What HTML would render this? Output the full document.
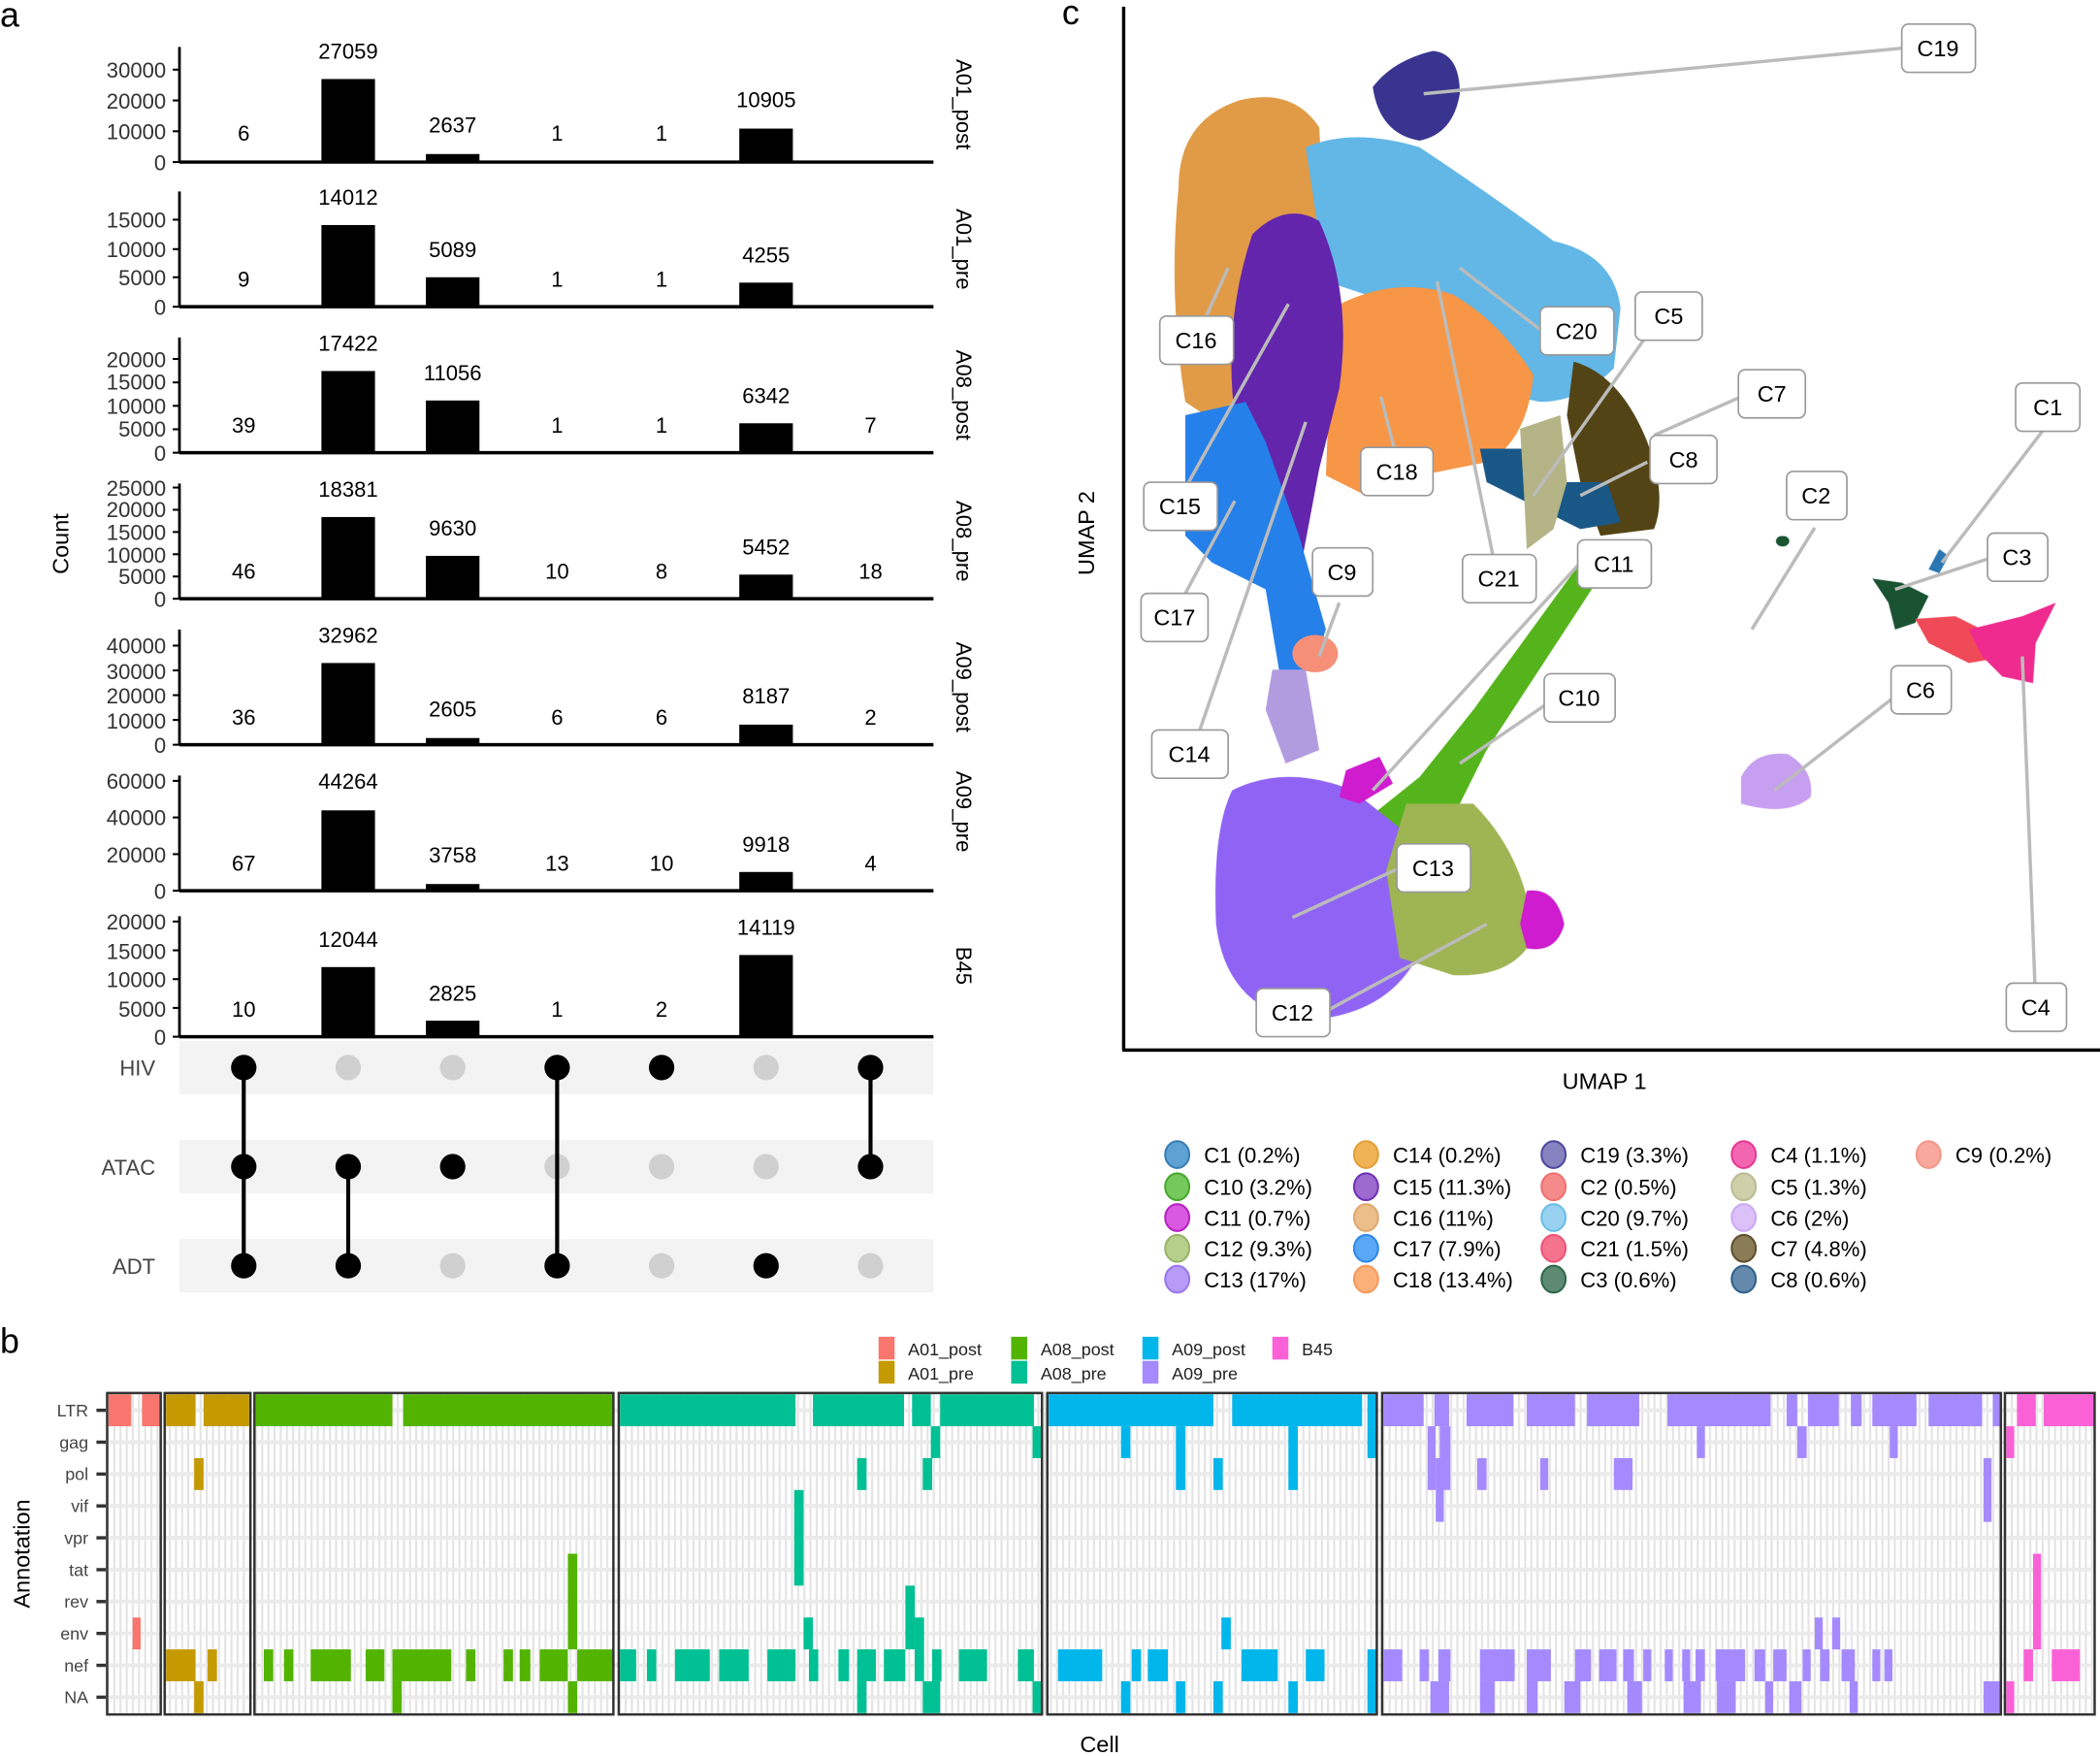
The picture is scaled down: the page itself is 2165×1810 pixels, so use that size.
<!DOCTYPE html>
<html><head><meta charset="utf-8"><style>
html,body{margin:0;padding:0;background:#fff}
svg{display:block}
text{font-family:"Liberation Sans",sans-serif}
</style></head><body>
<svg width="2165" height="1810" viewBox="0 0 1568 1311" preserveAspectRatio="none" xmlns="http://www.w3.org/2000/svg">
<defs>
<pattern id="vg" x="80" y="0" width="4.6" height="1311" patternUnits="userSpaceOnUse">
<rect x="0" y="0" width="1.6" height="1311" fill="#e4e4e4"/>
</pattern>
</defs>

<!-- ================= PANEL A ================= -->
<text x="0" y="20" font-size="26" fill="#000">a</text>
<g font-size="16" fill="#333">
<!-- P1 -->
<g>
<line x1="134" y1="35" x2="134" y2="121" stroke="#000" stroke-width="2"/>
<line x1="134" y1="121" x2="697" y2="121" stroke="#000" stroke-width="2.5"/>
<g stroke="#000" stroke-width="1.5"><line x1="129" y1="121" x2="134" y2="121"/><line x1="129" y1="98" x2="134" y2="98"/><line x1="129" y1="75" x2="134" y2="75"/><line x1="129" y1="52" x2="134" y2="52"/></g>
<g text-anchor="end"><text x="124" y="127">0</text><text x="124" y="104">10000</text><text x="124" y="81">20000</text><text x="124" y="58">30000</text></g>
<rect x="240" y="59" width="40" height="62" fill="#000"/><rect x="318" y="115" width="40" height="6" fill="#000"/><rect x="552" y="96" width="40" height="25" fill="#000"/>
<g text-anchor="middle" fill="#000"><text x="182" y="105">6</text><text x="260" y="44">27059</text><text x="338" y="99">2637</text><text x="416" y="105">1</text><text x="494" y="105">1</text><text x="572" y="80">10905</text></g>
<text transform="translate(714,78) rotate(90)" text-anchor="middle" fill="#000">A01_post</text>
</g>
<!-- P2 -->
<g>
<line x1="134" y1="143" x2="134" y2="229" stroke="#000" stroke-width="2"/>
<line x1="134" y1="229" x2="697" y2="229" stroke="#000" stroke-width="2.5"/>
<g stroke="#000" stroke-width="1.5"><line x1="129" y1="229" x2="134" y2="229"/><line x1="129" y1="207" x2="134" y2="207"/><line x1="129" y1="186" x2="134" y2="186"/><line x1="129" y1="164" x2="134" y2="164"/></g>
<g text-anchor="end"><text x="124" y="235">0</text><text x="124" y="213">5000</text><text x="124" y="192">10000</text><text x="124" y="170">15000</text></g>
<rect x="240" y="168" width="40" height="61" fill="#000"/><rect x="318" y="207" width="40" height="22" fill="#000"/><rect x="552" y="211" width="40" height="18" fill="#000"/>
<g text-anchor="middle" fill="#000"><text x="182" y="214">9</text><text x="260" y="153">14012</text><text x="338" y="192">5089</text><text x="416" y="214">1</text><text x="494" y="214">1</text><text x="572" y="196">4255</text></g>
<text transform="translate(714,186) rotate(90)" text-anchor="middle" fill="#000">A01_pre</text>
</g>
<!-- P3 -->
<g>
<line x1="134" y1="252" x2="134" y2="338" stroke="#000" stroke-width="2"/>
<line x1="134" y1="338" x2="697" y2="338" stroke="#000" stroke-width="2.5"/>
<g stroke="#000" stroke-width="1.5"><line x1="129" y1="338" x2="134" y2="338"/><line x1="129" y1="320.5" x2="134" y2="320.5"/><line x1="129" y1="303" x2="134" y2="303"/><line x1="129" y1="285.5" x2="134" y2="285.5"/><line x1="129" y1="268" x2="134" y2="268"/></g>
<g text-anchor="end"><text x="124" y="344">0</text><text x="124" y="326">5000</text><text x="124" y="309">10000</text><text x="124" y="291">15000</text><text x="124" y="274">20000</text></g>
<rect x="240" y="277" width="40" height="61" fill="#000"/><rect x="318" y="299" width="40" height="39" fill="#000"/><rect x="552" y="316" width="40" height="22" fill="#000"/>
<g text-anchor="middle" fill="#000"><text x="182" y="323">39</text><text x="260" y="262">17422</text><text x="338" y="284">11056</text><text x="416" y="323">1</text><text x="494" y="323">1</text><text x="572" y="301">6342</text><text x="650" y="323">7</text></g>
<text transform="translate(714,295) rotate(90)" text-anchor="middle" fill="#000">A08_post</text>
</g>
<!-- P4 -->
<g>
<line x1="134" y1="361" x2="134" y2="447" stroke="#000" stroke-width="2"/>
<line x1="134" y1="447" x2="697" y2="447" stroke="#000" stroke-width="2.5"/>
<g stroke="#000" stroke-width="1.5"><line x1="129" y1="447" x2="134" y2="447"/><line x1="129" y1="430.4" x2="134" y2="430.4"/><line x1="129" y1="413.8" x2="134" y2="413.8"/><line x1="129" y1="397.2" x2="134" y2="397.2"/><line x1="129" y1="380.6" x2="134" y2="380.6"/><line x1="129" y1="364" x2="134" y2="364"/></g>
<g text-anchor="end"><text x="124" y="453">0</text><text x="124" y="436">5000</text><text x="124" y="420">10000</text><text x="124" y="403">15000</text><text x="124" y="386">20000</text><text x="124" y="370">25000</text></g>
<rect x="240" y="386" width="40" height="61" fill="#000"/><rect x="318" y="415" width="40" height="32" fill="#000"/><rect x="552" y="429" width="40" height="18" fill="#000"/>
<g text-anchor="middle" fill="#000"><text x="182" y="432">46</text><text x="260" y="371">18381</text><text x="338" y="400">9630</text><text x="416" y="432">10</text><text x="494" y="432">8</text><text x="572" y="414">5452</text><text x="650" y="432">18</text></g>
<text transform="translate(714,404) rotate(90)" text-anchor="middle" fill="#000">A08_pre</text>
<text transform="translate(51,406) rotate(-90)" text-anchor="middle" fill="#000" font-size="17">Count</text>
</g>
<!-- P5 -->
<g>
<line x1="134" y1="470" x2="134" y2="556" stroke="#000" stroke-width="2"/>
<line x1="134" y1="556" x2="697" y2="556" stroke="#000" stroke-width="2.5"/>
<g stroke="#000" stroke-width="1.5"><line x1="129" y1="556" x2="134" y2="556"/><line x1="129" y1="537.5" x2="134" y2="537.5"/><line x1="129" y1="519" x2="134" y2="519"/><line x1="129" y1="500.5" x2="134" y2="500.5"/><line x1="129" y1="482" x2="134" y2="482"/></g>
<g text-anchor="end"><text x="124" y="562">0</text><text x="124" y="544">10000</text><text x="124" y="525">20000</text><text x="124" y="507">30000</text><text x="124" y="488">40000</text></g>
<rect x="240" y="495" width="40" height="61" fill="#000"/><rect x="318" y="551" width="40" height="5" fill="#000"/><rect x="552" y="541" width="40" height="15" fill="#000"/>
<g text-anchor="middle" fill="#000"><text x="182" y="541">36</text><text x="260" y="480">32962</text><text x="338" y="535">2605</text><text x="416" y="541">6</text><text x="494" y="541">6</text><text x="572" y="525">8187</text><text x="650" y="541">2</text></g>
<text transform="translate(714,513) rotate(90)" text-anchor="middle" fill="#000">A09_post</text>
</g>
<!-- P6 -->
<g>
<line x1="134" y1="579" x2="134" y2="665" stroke="#000" stroke-width="2"/>
<line x1="134" y1="665" x2="697" y2="665" stroke="#000" stroke-width="2.5"/>
<g stroke="#000" stroke-width="1.5"><line x1="129" y1="665" x2="134" y2="665"/><line x1="129" y1="637.7" x2="134" y2="637.7"/><line x1="129" y1="610.3" x2="134" y2="610.3"/><line x1="129" y1="583" x2="134" y2="583"/></g>
<g text-anchor="end"><text x="124" y="671">0</text><text x="124" y="644">20000</text><text x="124" y="616">40000</text><text x="124" y="589">60000</text></g>
<rect x="240" y="605" width="40" height="60" fill="#000"/><rect x="318" y="660" width="40" height="5" fill="#000"/><rect x="552" y="651" width="40" height="14" fill="#000"/>
<g text-anchor="middle" fill="#000"><text x="182" y="650">67</text><text x="260" y="589">44264</text><text x="338" y="644">3758</text><text x="416" y="650">13</text><text x="494" y="650">10</text><text x="572" y="636">9918</text><text x="650" y="650">4</text></g>
<text transform="translate(714,606) rotate(90)" text-anchor="middle" fill="#000">A09_pre</text>
</g>
<!-- P7 -->
<g>
<line x1="134" y1="684" x2="134" y2="774" stroke="#000" stroke-width="2"/>
<line x1="134" y1="774" x2="697" y2="774" stroke="#000" stroke-width="2.5"/>
<g stroke="#000" stroke-width="1.5"><line x1="129" y1="774" x2="134" y2="774"/><line x1="129" y1="752.5" x2="134" y2="752.5"/><line x1="129" y1="731" x2="134" y2="731"/><line x1="129" y1="709.5" x2="134" y2="709.5"/><line x1="129" y1="688" x2="134" y2="688"/></g>
<g text-anchor="end"><text x="124" y="780">0</text><text x="124" y="759">5000</text><text x="124" y="737">10000</text><text x="124" y="716">15000</text><text x="124" y="694">20000</text></g>
<rect x="240" y="722" width="40" height="52" fill="#000"/><rect x="318" y="762" width="40" height="12" fill="#000"/><rect x="552" y="713" width="40" height="61" fill="#000"/>
<g text-anchor="middle" fill="#000"><text x="182" y="759">10</text><text x="260" y="707">12044</text><text x="338" y="747">2825</text><text x="416" y="759">1</text><text x="494" y="759">2</text><text x="572" y="698">14119</text></g>
<text transform="translate(714,721) rotate(90)" text-anchor="middle" fill="#000">B45</text>
</g>
</g>

<!-- matrix -->
<rect x="134" y="777" width="563" height="40" fill="#f3f3f3"/>
<rect x="134" y="851" width="563" height="40" fill="#f3f3f3"/>
<rect x="134" y="925" width="563" height="40" fill="#f3f3f3"/>
<g font-size="16" fill="#444" text-anchor="end"><text x="116" y="803">HIV</text><text x="116" y="877">ATAC</text><text x="116" y="951">ADT</text></g>
<g fill="#d0d0d0">
<circle cx="260" cy="797" r="9.5"/><circle cx="338" cy="797" r="9.5"/><circle cx="572" cy="797" r="9.5"/>
<circle cx="416" cy="871" r="9.5"/><circle cx="494" cy="871" r="9.5"/><circle cx="572" cy="871" r="9.5"/>
<circle cx="338" cy="945" r="9.5"/><circle cx="494" cy="945" r="9.5"/><circle cx="650" cy="945" r="9.5"/>
</g>
<g stroke="#000" stroke-width="3"><line x1="182" y1="797" x2="182" y2="945"/><line x1="260" y1="871" x2="260" y2="945"/><line x1="416" y1="797" x2="416" y2="945"/><line x1="650" y1="797" x2="650" y2="871"/></g>
<g fill="#000">
<circle cx="182" cy="797" r="9.5"/><circle cx="416" cy="797" r="9.5"/><circle cx="494" cy="797" r="9.5"/><circle cx="650" cy="797" r="9.5"/>
<circle cx="182" cy="871" r="9.5"/><circle cx="260" cy="871" r="9.5"/><circle cx="338" cy="871" r="9.5"/><circle cx="650" cy="871" r="9.5"/>
<circle cx="182" cy="945" r="9.5"/><circle cx="260" cy="945" r="9.5"/><circle cx="416" cy="945" r="9.5"/><circle cx="572" cy="945" r="9.5"/>
</g>

<!-- ================= PANEL C ================= -->
<text x="793" y="18" font-size="26" fill="#000">c</text>
<g opacity="0.95">
<!-- C16 -->
<path d="M880,140 Q880,90 925,75 Q965,65 985,95 L990,180 L975,300 L930,330 L885,300 Q872,220 880,140Z" fill="#e0963e"/>
<!-- C20 -->
<path d="M975,110 Q1010,95 1060,110 Q1120,150 1160,180 Q1205,190 1210,230 L1205,275 Q1180,300 1150,300 L1100,290 L1050,230 L990,210Z" fill="#5ab4e5"/>
<!-- C19 -->
<path d="M1025,65 Q1040,45 1070,38 Q1090,40 1090,70 Q1085,100 1060,105 Q1030,100 1025,65Z" fill="#2e2a8a"/>
<!-- C18 -->
<path d="M995,230 Q1040,205 1085,220 Q1120,240 1145,280 Q1140,330 1110,345 L1060,355 L1020,370 L990,355 Z" fill="#f7913d"/>
<!-- C15 -->
<path d="M935,175 Q960,150 985,165 Q1010,220 1000,290 L985,350 L970,430 L945,420 L925,330 Q910,250 935,175Z" fill="#5b1aa8"/>
<!-- C17 -->
<path d="M885,310 L930,300 L945,330 L970,400 L990,470 L980,500 L955,500 L945,440 L905,420 L885,400 Z" fill="#1a7ae8"/>
<!-- C7 -->
<path d="M1175,270 Q1210,280 1230,330 Q1245,370 1235,395 L1195,400 L1180,360 L1170,310 Z" fill="#4a3a0a"/>
<!-- C8 -->
<path d="M1105,335 L1140,335 L1160,360 L1200,360 L1210,390 L1180,395 L1150,380 L1110,360Z" fill="#0d4f80"/>
<!-- C5 -->
<path d="M1135,320 L1165,310 L1170,360 L1160,395 L1140,410 L1138,370Z" fill="#b0b080"/>
<!-- C9 -->
<ellipse cx="982" cy="488" rx="17" ry="14" fill="#f58a70"/>
<!-- scattered trail -->
<path d="M950,500 L975,500 L985,560 L960,570 L945,530Z" fill="#8a6ad0" opacity="0.7"/>
<!-- C10 -->
<path d="M1180,420 L1195,430 L1110,560 L1090,600 L1060,640 L1020,650 L1010,620 L1060,580 L1100,530Z" fill="#4caf10"/>
<!-- C12 -->
<path d="M920,590 Q960,570 1010,590 L1060,630 L1055,720 Q1030,760 970,762 Q915,750 908,690 Q905,620 920,590Z" fill="#8a5cf5"/>
<!-- C13 -->
<path d="M1050,600 L1100,600 Q1140,640 1145,700 Q1130,730 1085,728 L1045,715 L1035,650Z" fill="#9ab04a"/>
<!-- C11 -->
<path d="M1005,575 L1030,565 L1040,585 L1015,600 L1000,595Z" fill="#cc10cc"/>
<path d="M1140,665 Q1162,662 1168,690 Q1162,712 1140,708 L1135,690Z" fill="#cc10cc"/>
<!-- C2 -->
<ellipse cx="1331" cy="404" rx="5" ry="4" fill="#0e4a28"/>
<!-- C1 -->
<path d="M1440,425 L1448,410 L1455,415 L1448,428Z" fill="#2070b0"/>
<!-- C3 -->
<path d="M1398,432 L1420,435 L1440,445 L1430,465 L1415,470 L1410,450Z" fill="#0e4a28"/>
<!-- C21/C4 -->
<path d="M1430,462 L1460,460 L1490,475 L1500,490 L1470,495 L1440,480Z" fill="#f04050"/>
<path d="M1470,470 L1510,460 L1535,450 L1520,480 L1518,510 L1495,505 L1480,490Z" fill="#f0208a"/>
<!-- C6 -->
<path d="M1300,580 Q1310,560 1335,563 Q1355,575 1352,595 Q1335,610 1300,600Z" fill="#c59af0"/>
</g>
<!-- leader lines -->
<g stroke="#bbbbbb" stroke-width="2.5" fill="none">
<line x1="1063" y1="70" x2="1420" y2="36"/>
<line x1="917" y1="200" x2="893" y2="253"/>
<line x1="962" y1="227" x2="878" y2="377"/>
<line x1="1090" y1="200" x2="1150" y2="246"/>
<line x1="1031" y1="296" x2="1045" y2="350"/>
<line x1="1073" y1="210" x2="1118" y2="431"/>
<line x1="1230" y1="250" x2="1145" y2="370"/>
<line x1="1305" y1="294" x2="1235" y2="325"/>
<line x1="1230" y1="345" x2="1180" y2="370"/>
<line x1="922" y1="374" x2="876" y2="460"/>
<line x1="975" y1="315" x2="890" y2="562"/>
<line x1="985" y1="490" x2="1000" y2="450"/>
<line x1="1180" y1="420" x2="1025" y2="590"/>
<line x1="1163" y1="520" x2="1090" y2="570"/>
<line x1="1045" y1="648" x2="965" y2="685"/>
<line x1="1110" y1="690" x2="990" y2="755"/>
<line x1="1355" y1="394" x2="1308" y2="470"/>
<line x1="1528" y1="318" x2="1450" y2="420"/>
<line x1="1488" y1="416" x2="1415" y2="440"/>
<line x1="1420" y1="516" x2="1325" y2="590"/>
<line x1="1510" y1="490" x2="1520" y2="750"/>
</g>
<g font-size="17" fill="#000">
<g fill="#fff" stroke="#999" stroke-width="1.2">
<rect x="1420" y="18" width="55" height="36" rx="5"/>
<rect x="866" y="236" width="55" height="36" rx="5"/>
<rect x="1150" y="229" width="55" height="36" rx="5"/>
<rect x="1221" y="218" width="50" height="36" rx="5"/>
<rect x="1298" y="276" width="50" height="36" rx="5"/>
<rect x="1505" y="286" width="48" height="36" rx="5"/>
<rect x="1232" y="325" width="50" height="36" rx="5"/>
<rect x="1016" y="334" width="54" height="36" rx="5"/>
<rect x="1334" y="352" width="45" height="36" rx="5"/>
<rect x="854" y="360" width="55" height="36" rx="5"/>
<rect x="1484" y="398" width="45" height="36" rx="5"/>
<rect x="1178" y="403" width="55" height="36" rx="5"/>
<rect x="980" y="409" width="45" height="36" rx="5"/>
<rect x="1092" y="414" width="55" height="36" rx="5"/>
<rect x="852" y="443" width="50" height="36" rx="5"/>
<rect x="1412" y="497" width="45" height="36" rx="5"/>
<rect x="1153" y="503" width="53" height="36" rx="5"/>
<rect x="860" y="545" width="57" height="36" rx="5"/>
<rect x="1043" y="630" width="55" height="36" rx="5"/>
<rect x="1498" y="734" width="45" height="36" rx="5"/>
<rect x="938" y="738" width="55" height="36" rx="5"/>
</g>
<g text-anchor="middle">
<text x="1447" y="42">C19</text><text x="893" y="260">C16</text><text x="1177" y="253">C20</text><text x="1246" y="242">C5</text><text x="1323" y="300">C7</text><text x="1529" y="310">C1</text><text x="1257" y="349">C8</text><text x="1043" y="358">C18</text><text x="1356" y="376">C2</text><text x="881" y="384">C15</text><text x="1506" y="422">C3</text><text x="1205" y="427">C11</text><text x="1002" y="433">C9</text><text x="1119" y="438">C21</text><text x="877" y="467">C17</text><text x="1434" y="521">C6</text><text x="1179" y="527">C10</text><text x="888" y="569">C14</text><text x="1070" y="654">C13</text><text x="1520" y="758">C4</text><text x="965" y="762">C12</text>
</g>
</g>
<line x1="839" y1="5" x2="839" y2="784" stroke="#000" stroke-width="2.5"/>
<line x1="838" y1="784" x2="1568" y2="784" stroke="#000" stroke-width="2.5"/>
<text x="1198" y="813" font-size="17" text-anchor="middle">UMAP 1</text>
<text transform="translate(817,398) rotate(-90)" font-size="17" text-anchor="middle">UMAP 2</text>

<!-- legend c -->
<g font-size="16" fill="#000">
<g stroke-width="1.5">
<ellipse cx="879" cy="862" rx="9" ry="10" fill="#5ea2d4" stroke="#3a7fb5"/>
<ellipse cx="879" cy="886" rx="9" ry="10" fill="#74c95a" stroke="#4aa832"/>
<ellipse cx="879" cy="909" rx="9" ry="10" fill="#d95ae0" stroke="#b823c2"/>
<ellipse cx="879" cy="932" rx="9" ry="10" fill="#b6cf8a" stroke="#98b468"/>
<ellipse cx="879" cy="955" rx="9" ry="10" fill="#b89af7" stroke="#9a78ef"/>
<ellipse cx="1020" cy="862" rx="9" ry="10" fill="#f0b456" stroke="#e3a03a"/>
<ellipse cx="1020" cy="886" rx="9" ry="10" fill="#9d6ad0" stroke="#7233b8"/>
<ellipse cx="1020" cy="909" rx="9" ry="10" fill="#ecbe8a" stroke="#e0a870"/>
<ellipse cx="1020" cy="932" rx="9" ry="10" fill="#5aa8f5" stroke="#2f89ea"/>
<ellipse cx="1020" cy="955" rx="9" ry="10" fill="#fbb07a" stroke="#f79a5e"/>
<ellipse cx="1160" cy="862" rx="9" ry="10" fill="#8683c0" stroke="#504a9e"/>
<ellipse cx="1160" cy="886" rx="9" ry="10" fill="#f58a8a" stroke="#ef7070"/>
<ellipse cx="1160" cy="909" rx="9" ry="10" fill="#98d2f0" stroke="#6cbde8"/>
<ellipse cx="1160" cy="932" rx="9" ry="10" fill="#f5738f" stroke="#ef5476"/>
<ellipse cx="1160" cy="955" rx="9" ry="10" fill="#5e8a74" stroke="#2e6a4a"/>
<ellipse cx="1302" cy="862" rx="9" ry="10" fill="#f266b0" stroke="#e83994"/>
<ellipse cx="1302" cy="886" rx="9" ry="10" fill="#cfd0aa" stroke="#bbbc94"/>
<ellipse cx="1302" cy="909" rx="9" ry="10" fill="#dcc0f8" stroke="#ccaaf4"/>
<ellipse cx="1302" cy="932" rx="9" ry="10" fill="#8a7c56" stroke="#5e5030"/>
<ellipse cx="1302" cy="955" rx="9" ry="10" fill="#6489ac" stroke="#31628c"/>
<ellipse cx="1440" cy="862" rx="9" ry="10" fill="#f8a89e" stroke="#f49888"/>
</g>
<text x="899" y="868">C1 (0.2%)</text><text x="899" y="892">C10 (3.2%)</text><text x="899" y="915">C11 (0.7%)</text><text x="899" y="938">C12 (9.3%)</text><text x="899" y="961">C13 (17%)</text>
<text x="1040" y="868">C14 (0.2%)</text><text x="1040" y="892">C15 (11.3%)</text><text x="1040" y="915">C16 (11%)</text><text x="1040" y="938">C17 (7.9%)</text><text x="1040" y="961">C18 (13.4%)</text>
<text x="1180" y="868">C19 (3.3%)</text><text x="1180" y="892">C2 (0.5%)</text><text x="1180" y="915">C20 (9.7%)</text><text x="1180" y="938">C21 (1.5%)</text><text x="1180" y="961">C3 (0.6%)</text>
<text x="1322" y="868">C4 (1.1%)</text><text x="1322" y="892">C5 (1.3%)</text><text x="1322" y="915">C6 (2%)</text><text x="1322" y="938">C7 (4.8%)</text><text x="1322" y="961">C8 (0.6%)</text>
<text x="1460" y="868">C9 (0.2%)</text>
</g>

<!-- ================= PANEL B ================= -->
<text x="0" y="1010" font-size="26" fill="#000">b</text>
<!-- legend b -->
<g font-size="13" fill="#222">
<rect x="656" y="998" width="12" height="17" fill="#f8766d"/><rect x="656" y="1016" width="12" height="17" fill="#c49a00"/>
<text x="678" y="1012">A01_post</text><text x="678" y="1030">A01_pre</text>
<rect x="755" y="998" width="12" height="17" fill="#53b400"/><rect x="755" y="1016" width="12" height="17" fill="#00c094"/>
<text x="777" y="1012">A08_post</text><text x="777" y="1030">A08_pre</text>
<rect x="853" y="998" width="12" height="17" fill="#00b6eb"/><rect x="853" y="1016" width="12" height="17" fill="#a58aff"/>
<text x="875" y="1012">A09_post</text><text x="875" y="1030">A09_pre</text>
<rect x="950" y="998" width="12" height="17" fill="#fb61d7"/>
<text x="972" y="1012">B45</text>
</g>
<!-- grid -->
<rect x="80" y="1040" width="1484" height="240" fill="#fff"/>
<rect x="80" y="1040" width="1484" height="240" fill="url(#vg)"/>
<g stroke="#ebebeb" stroke-width="3">
<line x1="80" y1="1052.9" x2="1564" y2="1052.9"/><line x1="80" y1="1076.7" x2="1564" y2="1076.7"/><line x1="80" y1="1100.5" x2="1564" y2="1100.5"/><line x1="80" y1="1124.3" x2="1564" y2="1124.3"/><line x1="80" y1="1148.1" x2="1564" y2="1148.1"/><line x1="80" y1="1171.9" x2="1564" y2="1171.9"/><line x1="80" y1="1195.7" x2="1564" y2="1195.7"/><line x1="80" y1="1219.5" x2="1564" y2="1219.5"/><line x1="80" y1="1243.3" x2="1564" y2="1243.3"/><line x1="80" y1="1267.1" x2="1564" y2="1267.1"/>
</g>
<g stroke="#333" stroke-width="2.5">
<line x1="72" y1="1052.9" x2="79" y2="1052.9"/><line x1="72" y1="1076.7" x2="79" y2="1076.7"/><line x1="72" y1="1100.5" x2="79" y2="1100.5"/><line x1="72" y1="1124.3" x2="79" y2="1124.3"/><line x1="72" y1="1148.1" x2="79" y2="1148.1"/><line x1="72" y1="1171.9" x2="79" y2="1171.9"/><line x1="72" y1="1195.7" x2="79" y2="1195.7"/><line x1="72" y1="1219.5" x2="79" y2="1219.5"/><line x1="72" y1="1243.3" x2="79" y2="1243.3"/><line x1="72" y1="1267.1" x2="79" y2="1267.1"/>
</g>
<g font-size="13" fill="#444" text-anchor="end">
<text x="66" y="1057.5">LTR</text><text x="66" y="1081.3">gag</text><text x="66" y="1105.1">pol</text><text x="66" y="1128.9">vif</text><text x="66" y="1152.7">vpr</text><text x="66" y="1176.5">tat</text><text x="66" y="1200.3">rev</text><text x="66" y="1224.1">env</text><text x="66" y="1247.9">nef</text><text x="66" y="1271.7">NA</text>
</g>
<text transform="translate(22,1160) rotate(-90)" font-size="17" text-anchor="middle">Annotation</text>
<text x="821" y="1308" font-size="17" text-anchor="middle">Cell</text>

<!-- rows: LTR 1041, gag 1064.8, pol 1088.6, vif 1112.4, vpr 1136.2, tat 1160, rev 1183.8, env 1207.6, nef 1231.4, NA 1255.2 ; h 23.8 -->
<!-- A01_post -->
<g fill="#f8766d">
<rect x="81" y="1041" width="17" height="23.8"/><rect x="106" y="1041" width="14" height="23.8"/>
<rect x="99" y="1207.6" width="6" height="23.8"/>
</g>
<!-- A01_pre -->
<g fill="#c49a00">
<rect x="124" y="1041" width="22" height="23.8"/><rect x="152" y="1041" width="34" height="23.8"/>
<rect x="145" y="1088.6" width="7" height="23.8"/>
<rect x="124" y="1231.4" width="22" height="23.8"/><rect x="155" y="1231.4" width="7" height="23.8"/>
<rect x="145" y="1255.2" width="7" height="23.8"/>
</g>
<!-- A08_post -->
<g fill="#53b400">
<rect x="191" y="1041" width="102" height="23.8"/><rect x="301" y="1041" width="157" height="23.8"/>
<rect x="424" y="1160" width="7" height="71.4"/>
<rect x="197" y="1231.4" width="7" height="23.8"/><rect x="212" y="1231.4" width="7" height="23.8"/><rect x="232" y="1231.4" width="30" height="23.8"/><rect x="273" y="1231.4" width="14" height="23.8"/><rect x="293" y="1231.4" width="44" height="23.8"/><rect x="348" y="1231.4" width="7" height="23.8"/><rect x="376" y="1231.4" width="7" height="23.8"/><rect x="388" y="1231.4" width="8" height="23.8"/><rect x="403" y="1231.4" width="21" height="23.8"/><rect x="431" y="1231.4" width="27" height="23.8"/>
<rect x="293" y="1255.2" width="7" height="23.8"/><rect x="424" y="1255.2" width="7" height="23.8"/>
</g>
<!-- A08_pre -->
<g fill="#00c094">
<rect x="463" y="1041" width="131" height="23.8"/><rect x="607" y="1041" width="68" height="23.8"/><rect x="681" y="1041" width="14" height="23.8"/><rect x="702" y="1041" width="70" height="23.8"/>
<rect x="695" y="1064.8" width="7" height="23.8"/><rect x="771" y="1064.8" width="7" height="23.8"/>
<rect x="640" y="1088.6" width="7" height="23.8"/><rect x="689" y="1088.6" width="7" height="23.8"/>
<rect x="593" y="1112.4" width="7" height="71.4"/>
<rect x="676" y="1183.8" width="7" height="47.6"/><rect x="683" y="1207.6" width="7" height="23.8"/><rect x="600" y="1207.6" width="7" height="23.8"/>
<rect x="463" y="1231.4" width="12" height="23.8"/><rect x="483" y="1231.4" width="7" height="23.8"/><rect x="504" y="1231.4" width="26" height="23.8"/><rect x="537" y="1231.4" width="22" height="23.8"/><rect x="573" y="1231.4" width="21" height="23.8"/><rect x="604" y="1231.4" width="7" height="23.8"/><rect x="626" y="1231.4" width="8" height="23.8"/><rect x="640" y="1231.4" width="14" height="23.8"/><rect x="660" y="1231.4" width="16" height="23.8"/><rect x="683" y="1231.4" width="7" height="23.8"/><rect x="696" y="1231.4" width="7" height="23.8"/><rect x="716" y="1231.4" width="21" height="23.8"/><rect x="760" y="1231.4" width="12" height="23.8"/>
<rect x="640" y="1255.2" width="7" height="23.8"/><rect x="689" y="1255.2" width="13" height="23.8"/><rect x="771" y="1255.2" width="7" height="23.8"/>
</g>
<!-- A09_post -->
<g fill="#00b6eb">
<rect x="783" y="1041" width="123" height="23.8"/><rect x="920" y="1041" width="97" height="23.8"/><rect x="1021" y="1041" width="7" height="23.8"/>
<rect x="837" y="1064.8" width="7" height="23.8"/><rect x="878" y="1064.8" width="7" height="47.6"/><rect x="962" y="1064.8" width="7" height="47.6"/><rect x="1021" y="1064.8" width="7" height="23.8"/>
<rect x="906" y="1088.6" width="7" height="23.8"/>
<rect x="912" y="1207.6" width="7" height="23.8"/>
<rect x="790" y="1231.4" width="33" height="23.8"/><rect x="845" y="1231.4" width="7" height="23.8"/><rect x="857" y="1231.4" width="15" height="23.8"/><rect x="927" y="1231.4" width="27" height="23.8"/><rect x="975" y="1231.4" width="14" height="23.8"/><rect x="1021" y="1231.4" width="7" height="23.8"/>
<rect x="837" y="1255.2" width="7" height="23.8"/><rect x="878" y="1255.2" width="7" height="23.8"/><rect x="906" y="1255.2" width="7" height="23.8"/><rect x="962" y="1255.2" width="7" height="23.8"/><rect x="1021" y="1255.2" width="7" height="23.8"/>
</g>
<!-- A09_pre -->
<g fill="#a58aff">
<rect x="1033" y="1041" width="30" height="23.8"/><rect x="1071" y="1041" width="11" height="23.8"/><rect x="1095" y="1041" width="35" height="23.8"/><rect x="1140" y="1041" width="36" height="23.8"/><rect x="1185" y="1041" width="39" height="23.8"/><rect x="1245" y="1041" width="77" height="23.8"/><rect x="1334" y="1041" width="8" height="23.8"/><rect x="1350" y="1041" width="23" height="23.8"/><rect x="1382" y="1041" width="8" height="23.8"/><rect x="1398" y="1041" width="33" height="23.8"/><rect x="1440" y="1041" width="40" height="23.8"/><rect x="1488" y="1041" width="6" height="23.8"/>
<rect x="1066" y="1064.8" width="6" height="47.6"/><rect x="1075" y="1064.8" width="8" height="47.6"/><rect x="1267" y="1064.8" width="6" height="23.8"/><rect x="1342" y="1064.8" width="7" height="23.8"/><rect x="1411" y="1064.8" width="6" height="23.8"/>
<rect x="1072" y="1088.6" width="6" height="47.6"/><rect x="1103" y="1088.6" width="7" height="23.8"/><rect x="1150" y="1088.6" width="6" height="23.8"/><rect x="1205" y="1088.6" width="14" height="23.8"/><rect x="1481" y="1088.6" width="6" height="47.6"/>
<rect x="1355" y="1207.6" width="6" height="23.8"/><rect x="1368" y="1207.6" width="6" height="23.8"/>
<rect x="1033" y="1231.4" width="14" height="23.8"/><rect x="1060" y="1231.4" width="7" height="23.8"/><rect x="1074" y="1231.4" width="9" height="23.8"/><rect x="1105" y="1231.4" width="26" height="23.8"/><rect x="1140" y="1231.4" width="18" height="23.8"/><rect x="1176" y="1231.4" width="12" height="23.8"/><rect x="1194" y="1231.4" width="13" height="23.8"/><rect x="1212" y="1231.4" width="8" height="23.8"/><rect x="1227" y="1231.4" width="6" height="23.8"/><rect x="1243" y="1231.4" width="6" height="23.8"/><rect x="1256" y="1231.4" width="6" height="23.8"/><rect x="1266" y="1231.4" width="7" height="23.8"/><rect x="1281" y="1231.4" width="22" height="23.8"/><rect x="1310" y="1231.4" width="8" height="23.8"/><rect x="1324" y="1231.4" width="10" height="23.8"/><rect x="1346" y="1231.4" width="6" height="23.8"/><rect x="1359" y="1231.4" width="7" height="23.8"/><rect x="1375" y="1231.4" width="10" height="23.8"/><rect x="1398" y="1231.4" width="6" height="23.8"/><rect x="1407" y="1231.4" width="6" height="23.8"/>
<rect x="1068" y="1255.2" width="14" height="23.8"/><rect x="1105" y="1255.2" width="11" height="23.8"/><rect x="1140" y="1255.2" width="8" height="23.8"/><rect x="1168" y="1255.2" width="12" height="23.8"/><rect x="1215" y="1255.2" width="11" height="23.8"/><rect x="1257" y="1255.2" width="13" height="23.8"/><rect x="1282" y="1255.2" width="14" height="23.8"/><rect x="1318" y="1255.2" width="6" height="23.8"/><rect x="1336" y="1255.2" width="9" height="23.8"/><rect x="1381" y="1255.2" width="6" height="23.8"/><rect x="1481" y="1255.2" width="13" height="23.8"/>
</g>
<!-- B45 -->
<g fill="#fb61d7">
<rect x="1506" y="1041" width="14" height="23.8"/><rect x="1526" y="1041" width="38" height="23.8"/>
<rect x="1498" y="1064.8" width="6" height="23.8"/>
<rect x="1518" y="1160" width="6" height="71.4"/>
<rect x="1511" y="1231.4" width="7" height="23.8"/><rect x="1532" y="1231.4" width="21" height="23.8"/>
<rect x="1498" y="1255.2" width="6" height="23.8"/>
</g>
<!-- group boxes -->
<g fill="none" stroke="#333" stroke-width="1.8">
<rect x="80" y="1040" width="40" height="240"/>
<rect x="123" y="1040" width="64" height="240"/>
<rect x="190" y="1040" width="268" height="240"/>
<rect x="462" y="1040" width="316" height="240"/>
<rect x="782" y="1040" width="246" height="240"/>
<rect x="1032" y="1040" width="462" height="240"/>
<rect x="1497" y="1040" width="67" height="240"/>
</g>
</svg>
</body></html>
